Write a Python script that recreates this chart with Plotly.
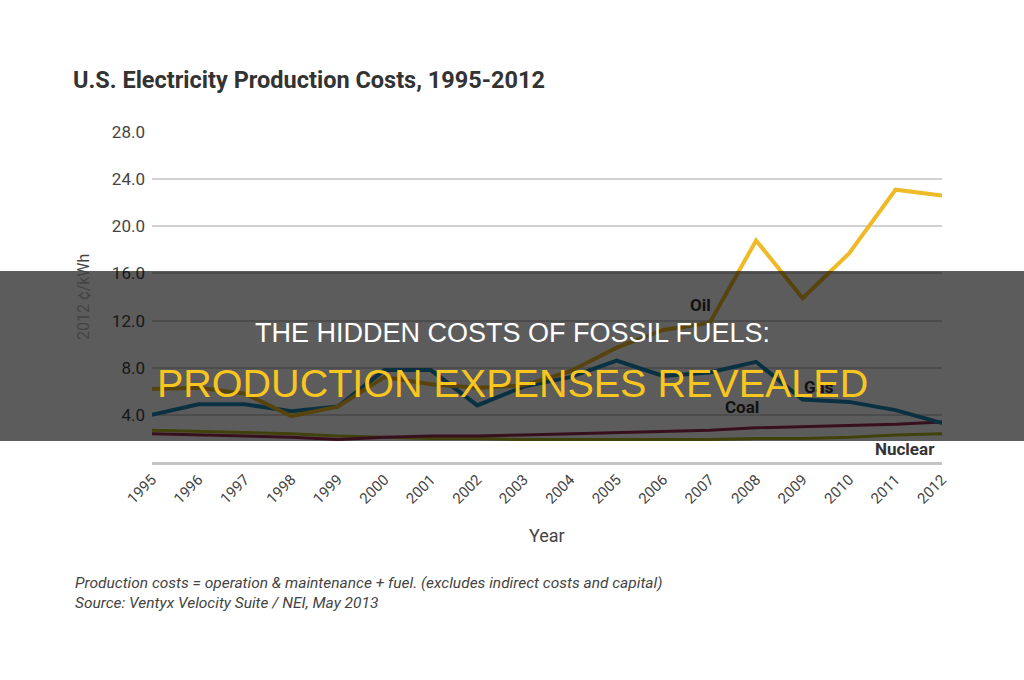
import plotly.graph_objects as go

years = list(range(1995, 2013))
oil = [6.2, 6.3, 5.8, 3.9, 4.7, 7.2, 6.6, 6.3, 6.5, 7.7, 9.7, 11.2, 11.8, 18.8, 13.9, 17.7, 23.1, 22.6]
gas = [4.0, 4.9, 4.9, 4.3, 4.7, 7.8, 7.8, 4.8, 6.4, 7.2, 8.6, 7.3, 7.6, 8.5, 5.3, 5.1, 4.4, 3.3]
coal = [2.4, 2.3, 2.2, 2.1, 1.9, 2.1, 2.2, 2.2, 2.3, 2.4, 2.5, 2.6, 2.7, 2.9, 3.0, 3.1, 3.2, 3.4]
nuclear = [2.7, 2.6, 2.5, 2.4, 2.2, 2.1, 2.0, 2.0, 1.9, 1.9, 1.9, 1.9, 1.9, 2.0, 2.0, 2.1, 2.3, 2.4]
y_ticks = [4, 8, 12, 16, 20, 24, 28]

series = [
    ("Nuclear", nuclear, "#b2b41f", 3),
    ("Coal", coal, "#9c2a52", 3),
    ("Gas", gas, "#1b88b6", 4),
    ("Oil", oil, "#efba28", 4),
]

fig = go.Figure()
for name, vals, color, w in series:
    fig.add_trace(go.Scatter(x=years, y=vals, mode="lines", name=name,
                             line=dict(color=color, width=w)))

labels = [
    ("Oil", 2006.8, 13.3, "#111111"),
    ("Coal", 2007.7, 4.7, "#111111"),
    ("Gas", 2009.35, 6.4, "#111111"),
    ("Nuclear", 2011.2, 1.1, "#333333"),
]
annotations = []
for t, x, y, c in labels:
    annotations.append(dict(x=x, y=y, xref="x", yref="y", text="<b>" + t + "</b>",
                            showarrow=False, font=dict(family="Roboto", size=17, color=c)))

annotations += [
    dict(x=0.5, y=-0.224, xref="paper", yref="paper", text="Year", showarrow=False,
         font=dict(family="Roboto", size=18, color="#444444"), xanchor="center", yanchor="middle"),
    dict(x=-0.0873, y=0.5, xref="paper", yref="paper", text="2012 ¢/kWh", showarrow=False,
         textangle=-90, font=dict(family="Roboto", size=16, color="#444444"),
         xanchor="center", yanchor="middle"),
    dict(x=-0.1, y=-0.3667, xref="paper", yref="paper", xanchor="left", yanchor="middle",
         text="<i>Production costs = operation &amp; maintenance + fuel. (excludes indirect costs and capital)</i>",
         showarrow=False, font=dict(family="Roboto", size=15.5, color="#444444")),
    dict(x=-0.1, y=-0.427, xref="paper", yref="paper", xanchor="left", yanchor="middle",
         text="<i>Source: Ventyx Velocity Suite / NEI, May 2013</i>",
         showarrow=False, font=dict(family="Roboto", size=15.5, color="#444444")),
    dict(x=0.4557, y=0.391, xref="paper", yref="paper", xanchor="center", yanchor="middle",
         text="THE HIDDEN COSTS OF FOSSIL FUELS:", showarrow=False,
         font=dict(family="Liberation Sans, Arial", size=27, color="#ffffff")),
    dict(x=0.4557, y=0.239, xref="paper", yref="paper", xanchor="center", yanchor="middle",
         text="PRODUCTION EXPENSES REVEALED", showarrow=False,
         font=dict(family="Liberation Sans, Arial", size=39.5, color="#f9c61f")),
]

fig.update_layout(
    width=1024, height=680,
    margin=dict(l=152, r=82, t=132, b=218, autoexpand=False),
    paper_bgcolor="white", plot_bgcolor="white",
    showlegend=False,
    title=dict(text="<b>U.S. Electricity Production Costs, 1995-2012</b>",
               x=73 / 1024, xanchor="left", y=1 - 80 / 680, yanchor="middle",
               font=dict(family="Roboto", size=23.5, color="#333333")),
    xaxis=dict(range=[1995, 2012], tickvals=years, ticktext=[str(y) for y in years],
               tickangle=-45, showgrid=False, zeroline=False,
               showline=True, linecolor="#c4c4c4", linewidth=3,
               tickfont=dict(family="Roboto", size=15, color="#444444"), ticks=""),
    yaxis=dict(range=[0, 28], tickvals=y_ticks, ticktext=[f"{v:.1f}" for v in y_ticks],
               showgrid=True, gridcolor="#d2d2d2", gridwidth=2, zeroline=False,
               tickfont=dict(family="Roboto", size=17, color="#444444"), ticks="",
               ticklabelstandoff=6),
    annotations=annotations,
    shapes=[dict(type="rect", xref="paper", yref="paper",
                 x0=-0.3, x1=1.2, y0=0.0636, y1=0.5788,
                 fillcolor="rgba(0,0,0,0.64)", line=dict(width=0), layer="above")],
)

fig.write_html("out.html")
